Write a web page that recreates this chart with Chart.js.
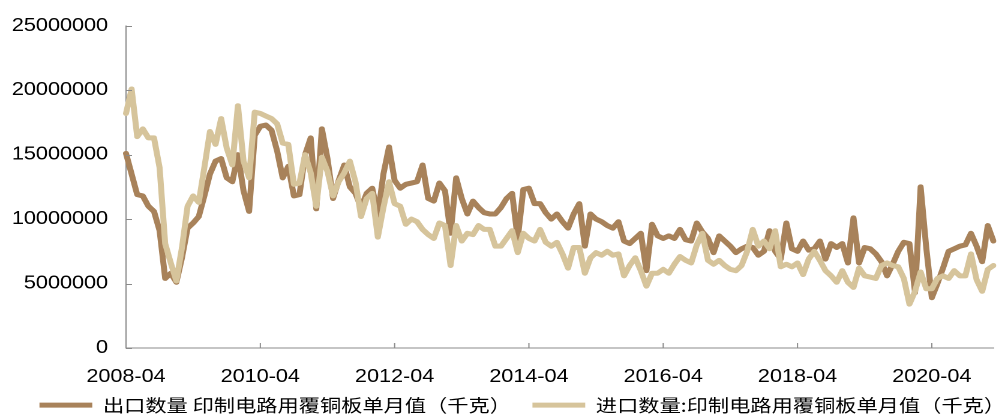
<!DOCTYPE html>
<html>
<head>
<meta charset="utf-8">
<script src="https://cdn.jsdelivr.net/npm/chart.js@4.4.1/dist/chart.umd.min.js"></script>
<style>
  html, body { margin: 0; padding: 0; background: #fff; overflow: hidden; }
  /* the reference is drawn slightly wide, so the chart is laid out narrow and stretched */
  #wrap { width: 840px; height: 424px; transform: scaleX(1.2); transform-origin: 0 0; }
</style>
</head>
<body>
<div id="wrap"><canvas id="myChart"></canvas></div>
<script>
// monthly categories, 2008-04 .. 2021-03
const firstYear = 2008, firstMonth = 4, monthCount = 156;
const months = [];
for (let k = 0; k < monthCount; k++) {
  const m = firstMonth - 1 + k;
  months.push((firstYear + Math.floor(m / 12)) + '-' + String(m % 12 + 1).padStart(2, '0'));
}

const tickLabels = ['2008-04', '2010-04', '2012-04', '2014-04', '2016-04', '2018-04', '2020-04'];

const exportLabel = '出口数量 印制电路用覆铜板单月值（千克）';
const importLabel = '进口数量:印制电路用覆铜板单月值（千克）';

const exportQty = [
  15100000, 13500000, 11900000, 11800000, 11000000, 10600000, 9100000, 5400000, 5800000, 5100000,
  7000000, 9300000, 9700000, 10200000, 11800000, 13500000, 14500000, 14700000, 13200000, 12900000,
  15000000, 12200000, 10600000, 16500000, 17200000, 17300000, 16900000, 15300000, 13200000, 14100000,
  11800000, 11900000, 15000000, 16300000, 10800000, 17000000, 14700000, 11600000, 13000000, 14200000,
  12500000, 12000000, 10900000, 12000000, 12400000, 10300000, 13500000, 15600000, 13000000, 12400000,
  12700000, 12800000, 12900000, 14200000, 11600000, 11400000, 12800000, 12200000, 8900000, 13200000,
  11600000, 10400000, 11400000, 10900000, 10500000, 10400000, 10400000, 10900000, 11600000, 12000000,
  8500000, 12300000, 12400000, 11200000, 11200000, 10500000, 10000000, 10400000, 9800000, 9300000,
  10400000, 11200000, 7900000, 10400000, 10000000, 9800000, 9500000, 9300000, 9800000, 8300000,
  8100000, 8500000, 8900000, 6000000, 9600000, 8700000, 8500000, 8700000, 8500000, 9200000,
  8400000, 8300000, 9700000, 9000000, 8500000, 7400000, 8700000, 8300000, 7900000, 7400000,
  7700000, 7900000, 7800000, 7200000, 7500000, 9100000, 7500000, 6900000, 9700000, 7700000,
  7500000, 8300000, 7600000, 7700000, 8300000, 6900000, 8100000, 7800000, 8100000, 6600000,
  10100000, 6600000, 7800000, 7700000, 7300000, 6700000, 5600000, 6500000, 7500000, 8200000,
  8100000, 4300000, 12500000, 7800000, 3900000, 5000000, 6200000, 7500000, 7700000, 7900000,
  8000000, 8900000, 7900000, 6700000, 9500000, 8300000
];

const importQty = [
  18200000, 20100000, 16400000, 17000000, 16300000, 16300000, 14000000, 8100000, 6600000, 5200000,
  7800000, 11000000, 11800000, 11300000, 14000000, 16800000, 15800000, 17800000, 15500000, 14200000,
  18800000, 14500000, 13200000, 18300000, 18200000, 18000000, 17800000, 17400000, 15900000, 15800000,
  12700000, 12800000, 15000000, 13600000, 11000000, 14800000, 13700000, 11800000, 12900000, 13600000,
  14500000, 12900000, 10200000, 11600000, 12000000, 8600000, 10900000, 12900000, 11200000, 11000000,
  9600000, 10000000, 9800000, 9200000, 8800000, 8500000, 9700000, 9500000, 6400000, 9500000,
  8300000, 8900000, 8800000, 9500000, 9200000, 9200000, 7900000, 7900000, 8500000, 9100000,
  7400000, 8900000, 8500000, 8300000, 9200000, 8200000, 7900000, 8200000, 7300000, 6200000,
  7800000, 7800000, 5800000, 7000000, 7400000, 7200000, 7500000, 7200000, 7300000, 5600000,
  6400000, 7000000, 6000000, 4800000, 5800000, 5800000, 6100000, 5800000, 6500000, 7100000,
  6800000, 6600000, 8000000, 8900000, 6800000, 6500000, 6800000, 6400000, 6100000, 6000000,
  6400000, 7500000, 9200000, 7900000, 8300000, 7700000, 9100000, 6300000, 6500000, 6300000,
  6600000, 5700000, 6900000, 7500000, 6800000, 6000000, 5600000, 5100000, 6000000, 5100000,
  4700000, 6200000, 5600000, 5500000, 5400000, 6400000, 6600000, 6400000, 6300000, 5400000,
  3400000, 4400000, 5900000, 4600000, 4600000, 5400000, 5600000, 5400000, 6000000, 5600000,
  5600000, 7300000, 5300000, 4400000, 6100000, 6400000
];

const yMax = 25000000, yStep = 5000000;

const axisColor = '#8a8a8a';
const axisFont = { family: '"Liberation Sans", Arial, sans-serif', size: 18 };
const legendFont = { family: '"Noto Sans CJK SC", sans-serif', size: 17.7 };

// small tick marks pointing into the plot, like the original
const insideTicks = {
  id: 'insideTicks',
  afterDraw(chart) {
    const { ctx, chartArea, scales: { x, y } } = chart;
    ctx.save();
    ctx.strokeStyle = axisColor;
    ctx.lineWidth = 1;
    ctx.beginPath();
    y.ticks.forEach(t => {
      const py = Math.round(y.getPixelForValue(t.value)) + 0.5;
      ctx.moveTo(chartArea.left, py);
      ctx.lineTo(chartArea.left + 5, py);
    });
    tickLabels.forEach(l => {
      const px = x.getPixelForValue(months.indexOf(l));
      ctx.moveTo(px, chartArea.bottom);
      ctx.lineTo(px, chartArea.bottom - 5);
    });
    ctx.stroke();
    ctx.restore();
  }
};

// keep both legend items on one row and move the row to where the reference has it
const legendRow = {
  id: 'legendRow',
  afterInit(chart) {
    const lg = chart.legend;
    const fit = lg.fit;
    lg.fit = function () {
      this.maxWidth += 80;
      fit.call(this);
    };
  },
  afterLayout(chart) {
    chart.legend.left -= 17.4;
    chart.legend.right += 60;
  }
};

new Chart(document.getElementById('myChart').getContext('2d'), {
  type: 'line',
  data: {
    labels: months,
    datasets: [
      {
        // trailing spaces only widen the gap before the second legend item
        label: exportLabel + '  ',
        data: exportQty,
        borderColor: '#a8825a',
        backgroundColor: '#a8825a',
        borderWidth: 5,
        borderJoinStyle: 'round',
        borderCapStyle: 'round',
        pointRadius: 0,
        tension: 0,
        order: 2
      },
      {
        label: importLabel,
        data: importQty,
        borderColor: '#d6c49b',
        backgroundColor: '#d6c49b',
        borderWidth: 5,
        borderJoinStyle: 'round',
        borderCapStyle: 'round',
        pointRadius: 0,
        tension: 0,
        order: 1
      }
    ]
  },
  options: {
    responsive: true,
    maintainAspectRatio: false,
    animation: false,
    devicePixelRatio: 2,
    layout: { padding: { top: 23, right: 12.2, left: 0, bottom: 0 } },
    plugins: {
      tooltip: { enabled: false },
      legend: {
        position: 'bottom',
        labels: {
          usePointStyle: true,
          pointStyle: 'line',
          pointStyleWidth: 44,
          boxHeight: 5,
          padding: 10,
          color: '#000',
          font: legendFont,
          sort: (a, b) => a.datasetIndex - b.datasetIndex
        }
      }
    },
    scales: {
      x: {
        type: 'category',
        offset: false,
        grid: { display: false, drawTicks: false },
        border: { display: true, color: axisColor, width: 1 },
        ticks: {
          autoSkip: false,
          maxRotation: 0,
          minRotation: 0,
          padding: 18,
          color: '#000',
          font: axisFont,
          callback: (v, i) => tickLabels.includes(months[i]) ? months[i] : ''
        },
        // no extra room for edge labels, the plot runs to the right padding
        afterFit: s => { s.height = 38.3; s.paddingLeft = 0; s.paddingRight = 0; }
      },
      y: {
        min: 0,
        max: yMax,
        grid: { display: false, drawTicks: false },
        border: { display: true, color: axisColor, width: 1 },
        ticks: {
          stepSize: yStep,
          padding: 15,
          color: '#000',
          font: axisFont,
          callback: v => String(v)
        },
        afterFit: s => { s.width = 105; s.paddingLeft = 0; s.paddingRight = 0; }
      }
    }
  },
  plugins: [insideTicks, legendRow]
});
</script>
</body>
</html>
